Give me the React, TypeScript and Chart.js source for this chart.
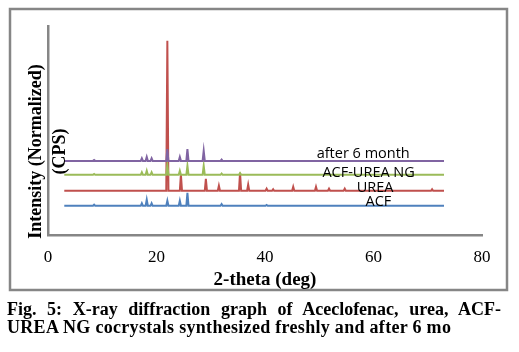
import React, { useEffect, useRef } from "react";
import { Chart, registerables } from "chart.js";

Chart.register(...registerables);

// ---- data ----
const seriesNames = ["ACF", "UREA", "ACF-UREA NG", "after 6 month"];
const seriesColors = ["#4F81BD", "#C0504D", "#9BBB59", "#8064A2"];
// normalized baseline offset of each stacked trace
const baselines = [13.9, 21.1, 28.7, 35.4];
const twoThetaStart = 3;
const twoThetaEnd = 73;
const xTicks = [0, 20, 40, 60, 80];

// [2-theta, peak height above baseline]
const acfPeaks: number[][] = [
  [8.5, 0.5], [17.3, 1.2], [18.2, 2.9], [19.1, 1.2], [22.0, 2.4],
  [24.3, 2.4], [25.7, 6.2], [32.0, 0.8], [40.3, 0.4],
];
const ureaPeaks: number[][] = [
  [22.0, 71.8], [24.5, 7.7], [29.1, 5.7], [31.5, 2.4], [35.4, 8.6],
  [36.9, 2.9], [40.3, 1.0], [41.5, 0.7], [45.2, 1.9], [49.4, 1.9],
  [51.8, 1.0], [54.7, 1.0], [70.8, 0.7],
];
const ngPeaks: number[][] = [
  [8.5, 0.4], [17.3, 1.2], [18.2, 1.9], [19.1, 1.2], [22.0, 4.8],
  [24.3, 1.9], [25.7, 4.3], [28.7, 4.3], [32.0, 0.6], [35.4, 0.8],
];
const agedPeaks: number[][] = [
  [8.5, 0.4], [17.3, 1.2], [18.2, 1.9], [19.1, 1.2], [22.0, 5.7],
  [24.3, 1.9], [25.7, 5.7], [28.7, 4.8], [32.0, 0.6],
];
const allPeaks = [acfPeaks, ureaPeaks, ngPeaks, agedPeaks];

// label placement (2-theta of label centre, pixel shift of text baseline from trace)
const labelX = [60.9, 60.3, 59.1, 58.1];
const labelDy = [0, 1, 2, -3];

const PEAK_HALF = 0.2;

function buildTrace(base: number, peaks: number[][]) {
  const pts: { x: number; y: number }[] = [{ x: twoThetaStart, y: base }];
  const sorted = [...peaks].sort((a, b) => a[0] - b[0]);
  for (const [p, h] of sorted) {
    pts.push({ x: p - PEAK_HALF, y: base });
    pts.push({ x: p, y: base + h });
    pts.push({ x: p + PEAK_HALF, y: base });
  }
  pts.push({ x: twoThetaEnd, y: base });
  return pts;
}

const decorPlugin = {
  id: "decor",
  beforeDraw(chart: any) {
    const ctx = chart.ctx;
    ctx.save();
    ctx.fillStyle = "#ffffff";
    ctx.fillRect(0, 0, chart.width, chart.height);
    ctx.strokeStyle = "#868686";
    ctx.lineWidth = 2.5;
    ctx.strokeRect(10, 9, 497, 281);
    ctx.restore();
  },
  afterDraw(chart: any) {
    const ctx = chart.ctx;
    const area = chart.chartArea;
    const xs = chart.scales.x;
    const ys = chart.scales.y;
    ctx.save();
    // y title (two lines)
    ctx.fillStyle = "#000";
    ctx.font = 'bold 18px "Liberation Serif"';
    ctx.textAlign = "center";
    ctx.textBaseline = "middle";
    const cy = area.top + 125.5;
    ctx.save();
    ctx.translate(area.left - 12, cy);
    ctx.rotate(-Math.PI / 2);
    ctx.fillText("Intensity (Normalized)", 0, 0);
    ctx.restore();
    ctx.save();
    ctx.translate(area.left + 12, cy);
    ctx.rotate(-Math.PI / 2);
    ctx.fillText("(CPS)", 0, 0);
    ctx.restore();
    // trace labels
    ctx.font = '14.5px "Open Sans"';
    ctx.textBaseline = "alphabetic";
    for (let i = 0; i < seriesNames.length; i++) {
      const px = xs.getPixelForValue(labelX[i]);
      const py = ys.getPixelForValue(baselines[i]) + labelDy[i];
      ctx.fillText(seriesNames[i], px, py);
    }
    ctx.restore();
  },
};

export default function App() {
  const ref = useRef<HTMLCanvasElement>(null);
  useEffect(() => {
    if (!ref.current) return;
    const chart = new Chart(ref.current, {
      type: "line",
      data: {
        datasets: seriesNames.map((name, i) => ({
          label: name,
          data: buildTrace(baselines[i], allPeaks[i]),
          borderColor: seriesColors[i],
          backgroundColor: seriesColors[i],
          borderWidth: 2,
          pointRadius: 0,
          tension: 0,
          fill: false,
          order: seriesNames.length - i,
        })),
      },
      options: {
        animation: false,
        responsive: false,
        devicePixelRatio: 1,
        layout: { padding: { left: 48, right: 37, top: 26, bottom: 57 } },
        plugins: { legend: { display: false }, tooltip: { enabled: false } },
        scales: {
          x: {
            type: "linear",
            min: 0,
            max: 80,
            afterBuildTicks: (s: any) => {
              s.ticks = xTicks.map((v) => ({ value: v }));
            },
            grid: { display: false, drawTicks: false },
            border: { display: true, color: "#868686", width: 2.5 },
            ticks: {
              color: "#000",
              padding: 13,
              font: { family: "Liberation Serif", size: 17 },
            },
            title: {
              display: true,
              text: "2-theta (deg)",
              color: "#000",
              font: { family: "Liberation Serif", size: 19, weight: "bold" },
              padding: { top: -13, bottom: 4 },
            },
          },
          y: {
            type: "linear",
            min: 0,
            max: 100,
            grid: { display: false, drawTicks: false },
            border: { display: true, color: "#868686", width: 2.5 },
            ticks: { display: false },
          },
        },
      },
      plugins: [decorPlugin],
    });
    return () => chart.destroy();
  }, []);

  return (
    <div style={{ position: "absolute", left: 0, top: 0, width: 519, height: 352, background: "#fff" }}>
      <canvas ref={ref} width={519} height={352} style={{ position: "absolute", left: 0, top: 0, width: 519, height: 352 }} />
      <div
        style={{
          position: "absolute",
          left: 7,
          top: 300,
          width: 494,
          fontFamily: '"Liberation Serif"',
          fontWeight: "bold",
          fontSize: 18,
          lineHeight: "18.3px",
          color: "#000",
        }}
      >
        <div style={{ textAlign: "justify", textAlignLast: "justify", whiteSpace: "nowrap" }}>
          Fig. 5: X-ray diffraction graph of Aceclofenac, urea, ACF-
        </div>
        <div style={{ whiteSpace: "nowrap", letterSpacing: "0.3px" }}>
          UREA NG cocrystals synthesized freshly and after 6 mo
        </div>
      </div>
    </div>
  );
}
